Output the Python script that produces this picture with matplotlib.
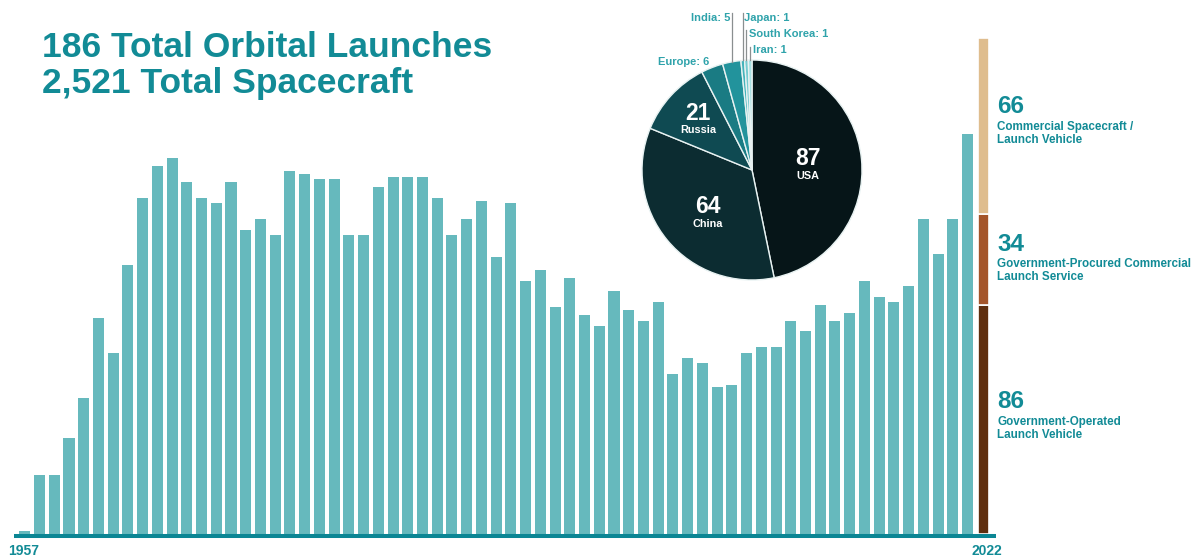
import numpy as np
import matplotlib
matplotlib.use("Agg")
import matplotlib.pyplot as plt

plt.rcParams['font.family'] = ['Liberation Sans', 'DejaVu Sans']
plt.rcParams['font.weight'] = 'bold'

# launches per year, 1957-2021
years = list(range(1957, 2022))
launches = [1, 22, 22, 36, 51, 81, 68, 101, 126, 138,
            141, 132, 126, 124, 132, 114, 118, 112, 136, 135,
            133, 133, 112, 112, 130, 134, 134, 134, 126, 112,
            118, 125, 104, 124, 95, 99, 85, 96, 82, 78,
            91, 84, 80, 87, 60, 66, 64, 55, 56, 68,
            70, 70, 80, 76, 86, 80, 83, 95, 89, 87,
            93, 118, 105, 118, 150]

# 2022 breakdown by launch type
types = ['Government-Operated\nLaunch Vehicle',
         'Government-Procured Commercial\nLaunch Service',
         'Commercial Spacecraft /\nLaunch Vehicle']
type_counts = [86, 34, 66]
type_colors = ['#5f2e0e', '#a4552a', '#dfbd8e']

# 2022 launches by country
countries = ['USA', 'China', 'Russia', 'Europe', 'India', 'Japan', 'South Korea', 'Iran']
country_counts = [87, 64, 21, 6, 5, 1, 1, 1]
country_colors = ['#061518', '#0c2c31', '#0f4a52', '#1a7b83', '#22939c',
                  '#45b3bb', '#74cbd0', '#a6e0e3']

TEAL = '#128b96'
LIGHT_TEAL = '#2fa3ab'
BAR = '#66b9bd'

W, H = 1198, 556
fig = plt.figure(figsize=(W / 100, H / 100), dpi=100)

def fx(px):
    return px / W

def fy(py):
    return 1 - py / H

# main bar chart: 1 launch = 2.667 px, bar spacing 14.73 px
px_per_unit = 2.667
step = 14.73
x0 = 24.8
ax = fig.add_axes([0, fy(534), 1, 534 / H])
ax.set_xlim(-x0 / step, (W - x0) / step)
ax.set_ylim(0, 534 / px_per_unit)
ax.axis('off')

idx = np.arange(len(years))
ax.bar(idx, launches, width=0.75, color=BAR, edgecolor='none')

# stacked column for 2022
bottom = 0
for c, col in zip(type_counts, type_colors):
    ax.bar(65.1, c, bottom=bottom, width=0.72, color=col,
           edgecolor='white', linewidth=1.2)
    bottom += c

ax.plot([(14 - x0) / step, (996 - x0) / step], [-0.75, -0.75],
        color='#0b8694', lw=2.9, solid_capstyle='butt', clip_on=False)

# category labels next to the stacked column
label_y = [(408, 425, 438), (251, 267, 280), (113, 130, 143)]
for c, name, (ny, l1, l2) in zip(type_counts, types, label_y):
    fig.text(fx(997), fy(ny), str(c), fontsize=17.5, color=TEAL, va='baseline')
    a, b = name.split('\n')
    fig.text(fx(997), fy(l1), a, fontsize=8.4, color=TEAL, va='baseline')
    fig.text(fx(997), fy(l2), b, fontsize=8.4, color=TEAL, va='baseline')

fig.text(fx(8), fy(555), '1957', fontsize=10, color=TEAL, va='baseline')
fig.text(fx(971), fy(555), '2022', fontsize=10, color=TEAL, va='baseline')

# headline
fig.text(fx(42), fy(57), '186 Total Orbital Launches', fontsize=25.5,
         color=TEAL, va='baseline')
fig.text(fx(42), fy(93), '2,521 Total Spacecraft', fontsize=25.5,
         color=TEAL, va='baseline')

# pie of launches by country
cx, cy, r = 752, 170, 110
half = 168
pax = fig.add_axes([fx(cx - half), fy(cy + half), 2 * half / W, 2 * half / H])
wedges, _ = pax.pie(country_counts, colors=country_colors, startangle=90,
                    counterclock=False, radius=1,
                    wedgeprops=dict(edgecolor='#e8f2f2', linewidth=1.0))
pax.set_xlim(-half / r, half / r)
pax.set_ylim(-half / r, half / r)
pax.set_aspect('equal')
pax.axis('off')

def pu(px, py):
    return (px - cx) / r, (cy - py) / r

big = [('87', 'USA', 808, 165, 179), ('64', 'China', 708, 213, 227),
       ('21', 'Russia', 698, 120, 133)]
for num, name, px, ny, ly in big:
    pax.text(*pu(px, ny), num, fontsize=16.5, color='white',
             ha='center', va='baseline')
    pax.text(*pu(px, ly), name, fontsize=7.8, color='white',
             ha='center', va='baseline')

# small slices get leader lines up to their labels
tops = {'India': 13, 'Japan': 13, 'South Korea': 30, 'Iran': 47}
for w, name in zip(wedges, countries):
    if name not in tops:
        continue
    mid = np.deg2rad((w.theta1 + w.theta2) / 2)
    ex, ey = np.cos(mid), np.sin(mid)
    pax.plot([ex, ex], [ey, (cy - tops[name]) / r], color='#8a8f90',
             lw=0.9, clip_on=False)

pax.text(*pu(709, 65), 'Europe: 6', fontsize=8, color=LIGHT_TEAL,
         ha='right', va='baseline')
pax.text(*pu(730, 21), 'India: 5', fontsize=8, color=LIGHT_TEAL,
         ha='right', va='baseline')
pax.text(*pu(744, 21), 'Japan: 1', fontsize=8, color=LIGHT_TEAL,
         ha='left', va='baseline')
pax.text(*pu(749, 37), 'South Korea: 1', fontsize=8, color=LIGHT_TEAL,
         ha='left', va='baseline')
pax.text(*pu(753, 53), 'Iran: 1', fontsize=8, color=LIGHT_TEAL,
         ha='left', va='baseline')

fig.savefig('out.png', dpi=100)
